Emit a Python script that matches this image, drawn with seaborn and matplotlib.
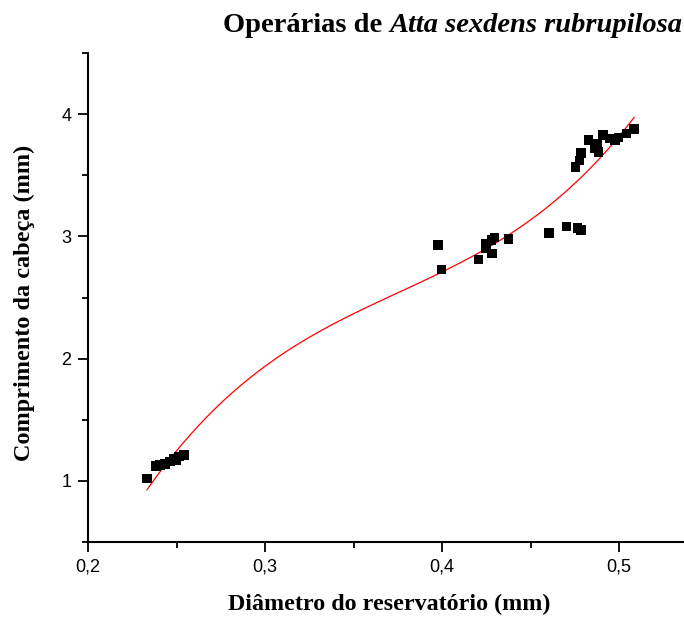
import numpy as np
import pandas as pd
import matplotlib
matplotlib.use("Agg")
import matplotlib.pyplot as plt
import seaborn as sns
from matplotlib.ticker import MultipleLocator, FuncFormatter

# Data
diametro = [0.2333, 0.2384, 0.2407, 0.2435, 0.2463, 0.2486, 0.2500, 0.2514, 0.2542,
            0.3977, 0.3996, 0.4205, 0.4249, 0.4250, 0.4280, 0.4284, 0.4296, 0.4375,
            0.4606, 0.4704, 0.4765, 0.4785,
            0.4755, 0.4776, 0.4785, 0.4827, 0.4864, 0.4874, 0.4884, 0.4911, 0.4949,
            0.4977, 0.4996, 0.5043, 0.5086]
comprimento = [1.02, 1.12, 1.13, 1.14, 1.16, 1.18, 1.17, 1.20, 1.21,
               2.93, 2.73, 2.81, 2.94, 2.90, 2.97, 2.86, 2.99, 2.98,
               3.03, 3.08, 3.07, 3.05,
               3.57, 3.62, 3.68, 3.79, 3.72, 3.76, 3.69, 3.83, 3.80,
               3.79, 3.81, 3.84, 3.88]
x_ticks = [0.2, 0.3, 0.4, 0.5]
y_ticks = [1, 2, 3, 4]

df = pd.DataFrame({"d": diametro, "c": comprimento})

sns.set_theme(style="ticks")
plt.rcParams["font.family"] = ["Liberation Sans", "DejaVu Sans"]
plt.rcParams["text.color"] = "black"
plt.rcParams["axes.labelcolor"] = "black"

fig = plt.figure(figsize=(6.84, 6.17), dpi=100)
ax = fig.add_axes([88/684, 1-542/617, 1-88/684, (542-53)/617])

sns.scatterplot(data=df, x="d", y="c", marker="s", s=48, color="black",
                edgecolor="none", ax=ax, zorder=3)
sns.regplot(data=df, x="d", y="c", order=3, ci=None, scatter=False,
            line_kws={"color": "red", "lw": 0.9}, ax=ax)

ax.set_xlim(0.2, 0.5367)
ax.set_ylim(0.5, 4.5)
ax.set_xticks(x_ticks)
ax.set_yticks(y_ticks)
ax.xaxis.set_minor_locator(MultipleLocator(0.05))
ax.yaxis.set_minor_locator(MultipleLocator(0.5))
ax.xaxis.set_major_formatter(FuncFormatter(lambda v, p: f"{v:.1f}".replace(".", ",")))
ax.yaxis.set_major_formatter(FuncFormatter(lambda v, p: f"{v:.0f}"))
ax.tick_params(which="major", direction="out", length=7, width=1.3, labelsize=13,
               colors="black", pad=5)
ax.tick_params(which="minor", direction="out", length=4, width=1.3, colors="black")
for s in ["top", "right"]:
    ax.spines[s].set_visible(False)
for s in ["left", "bottom"]:
    ax.spines[s].set_linewidth(1.5)
    ax.spines[s].set_color("black")

ax.set_xlabel("")
ax.set_ylabel("")
fig.text(389/684, 1-604/617, "Diâmetro do reservatório (mm)", ha="center", va="center",
         fontsize=17.3, fontweight="bold", family="Liberation Serif", color="black")
fig.text(24/684, 1-303/617, "Comprimento da cabeça (mm)", ha="center", va="center",
         rotation=90, fontsize=17.5, fontweight="bold", family="Liberation Serif",
         color="black")

# Title: bold + bold italic parts
t2 = fig.text(682/684, 1-25/617, "Atta sexdens rubrupilosa", ha="right", va="center",
              fontsize=20.5, fontweight="bold", fontstyle="italic",
              family="Liberation Serif", color="black")
fig.canvas.draw()
bb = t2.get_window_extent()
x_left = bb.x0 / fig.bbox.width
fig.text(x_left, 1-25/617, "Operárias de ", ha="right", va="center",
         fontsize=20.5, fontweight="bold", family="Liberation Serif", color="black")

fig.savefig("out.png", dpi=100)
